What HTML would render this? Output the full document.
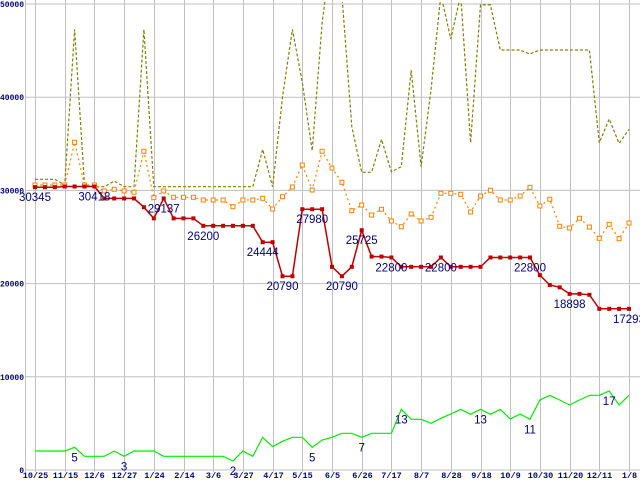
<!DOCTYPE html>
<html><head><meta charset="utf-8"><style>
html,body{margin:0;padding:0;background:#fff;}
svg{display:block;}
</style></head><body>
<svg id="chart" width="640" height="480" viewBox="0 0 640 480" xmlns="http://www.w3.org/2000/svg">
<defs><clipPath id="plotclip"><rect x="25" y="2" width="615" height="470"/></clipPath></defs>
<g id="grid"></g>
<g id="axes"></g>
<g id="series" clip-path="url(#plotclip)"></g>
<g id="labels"></g>
</svg>
<script>
const xTickLabels=["10/25","11/15","12/6","12/27","1/24","2/14","3/6","3/27","4/17","5/15","6/5","6/26","7/17","8/7","8/28","9/18","10/9","10/30","11/20","12/11","1/8"];
const yTickValues=[0,10000,20000,30000,40000,50000];
const priceValues=[30345,30345,30345,30418,30418,30418,30418,29137,29137,29137,29137,28200,27000,29137,27000,27000,27000,26200,26200,26200,26200,26200,26200,24444,24444,20790,20790,27980,27980,27980,21800,20790,21800,25725,22900,22900,22800,21800,21800,21800,21800,22800,21800,21800,21800,21800,22800,22800,22800,22800,22800,20900,19850,19600,18898,18898,18800,17293,17293,17293,17293];
const avgValues=[30580,30580,30580,30580,35160,30580,30580,29940,30120,29940,29800,34200,29220,29940,29260,29260,29260,28970,28970,28970,28250,28970,28970,29150,28000,29320,30370,32720,30040,34200,32400,30870,27820,28430,27360,27970,26720,26100,27470,26720,27110,29690,29690,29580,27680,29400,30010,28970,28970,29400,30330,28330,29050,26150,25970,27010,26070,24860,26360,24820,26500];
const maxValues=[31190,31190,31190,30580,47280,30580,30400,30400,31000,30400,30400,47280,30400,30400,30400,30400,30400,30400,30400,30400,30400,30400,30400,34400,30400,40000,47280,41600,34260,47960,56000,51000,36840,31940,31940,35480,32000,32540,42900,32540,40770,51000,46240,51000,35120,49900,49900,45060,45060,45060,44640,45060,45060,45060,45060,45060,45060,35120,37660,35050,36560];
const minValues=[2040,2040,2040,2040,2440,1470,1470,1470,2040,1470,2040,2040,2040,1470,1470,1470,1470,1470,1470,1470,970,2040,1470,3510,2500,3080,3510,3510,2440,3220,3510,3940,3940,3510,3940,3940,3940,6510,5440,5440,5010,5550,6010,6510,5980,6510,5980,6510,5470,6010,5440,7510,8020,7510,6970,7510,8020,8020,8480,6970,8020];
const priceLabelIdx=[0,6,13,17,23,25,28,31,33,36,41,50,54,60];
const countLabelIdx=[4,9,20,28,33,37,45,50,58];
const countLabels=["5","3","2","5","7","13","13","11","17"];

const NS="http://www.w3.org/2000/svg";
const X0=35, XSTEP=9.9, Y0=470, YSCALE=466/50000;
function xPos(i){return X0+i*XSTEP;}
function yPos(v){return Y0-v*YSCALE;}
function mk(tag,attrs,parent){const e=document.createElementNS(NS,tag);for(const k in attrs)e.setAttribute(k,attrs[k]);parent.appendChild(e);return e;}
const grid=document.getElementById('grid'),axes=document.getElementById('axes'),series=document.getElementById('series'),labels=document.getElementById('labels');

yTickValues.forEach(v=>{
  const y=yPos(v);
  const l=mk('line',{x1:25,x2:640,y1:y,y2:y,stroke:'#c0c0c0','stroke-width':1},grid);
  
  
  const t=mk('text',{x:24,y:y+3,'text-anchor':'end','font-family':'Liberation Mono, monospace','font-size':8,'font-weight':'bold',fill:'#000080'},axes);
  t.textContent=String(v);
  
  
});
const ax=mk('line',{x1:25.5,x2:25.5,y1:0,y2:472,stroke:'#c0c0c0','stroke-width':1},grid);


xTickLabels.forEach((s,k)=>{
  const x=Math.round(xPos(k*3))+0.5;
  const l=mk('line',{x1:x,x2:x,y1:0,y2:472,stroke:'#c0c0c0','stroke-width':1},grid);
  
  
  const t=mk('text',{x:x,y:478,'text-anchor':'middle','font-family':'Liberation Mono, monospace','font-size':8.5,'font-weight':'bold',fill:'#000080'},axes);
  t.textContent=s;
  
  
});

function pts(arr){return arr.map((v,i)=>xPos(i).toFixed(1)+','+yPos(v).toFixed(1)).join(' ');}
const maxLine=mk('polyline',{points:pts(maxValues),fill:'none',stroke:'#808000','stroke-width':1.2,'stroke-dasharray':'3,2'},series);


const avgLine=mk('polyline',{points:pts(avgValues),fill:'none',stroke:'#ff8000','stroke-width':1.2,'stroke-dasharray':'2,3'},series);


avgValues.forEach((v,i)=>{
  const r=mk('rect',{x:xPos(i)-2,y:yPos(v)-2,width:4,height:4,fill:'#fff',stroke:'#ff8000','stroke-width':1},series);
  
  
});
const minLine=mk('polyline',{points:pts(minValues),fill:'none',stroke:'#00ee00','stroke-width':1.2},series);


const priceLine=mk('polyline',{points:pts(priceValues),fill:'none',stroke:'#c00000','stroke-width':1.5},series);


priceValues.forEach((v,i)=>{
  const r=mk('rect',{x:xPos(i)-2,y:yPos(v)-2,width:4,height:4,fill:'#c00000'},series);
  
  
});
priceLabelIdx.forEach(i=>{
  const t=mk('text',{x:xPos(i),y:yPos(priceValues[i])+14,'text-anchor':'middle','font-family':'Liberation Sans, sans-serif','font-size':11.5,fill:'#000080'},labels);
  t.textContent=String(priceValues[i]);
  
  
});
countLabelIdx.forEach((i,k)=>{
  const t=mk('text',{x:xPos(i),y:yPos(minValues[i])+14,'text-anchor':'middle','font-family':'Liberation Sans, sans-serif','font-size':11.5,fill:'#000080'},labels);
  t.textContent=countLabels[k];
  
  
});
</script>
</body></html>
